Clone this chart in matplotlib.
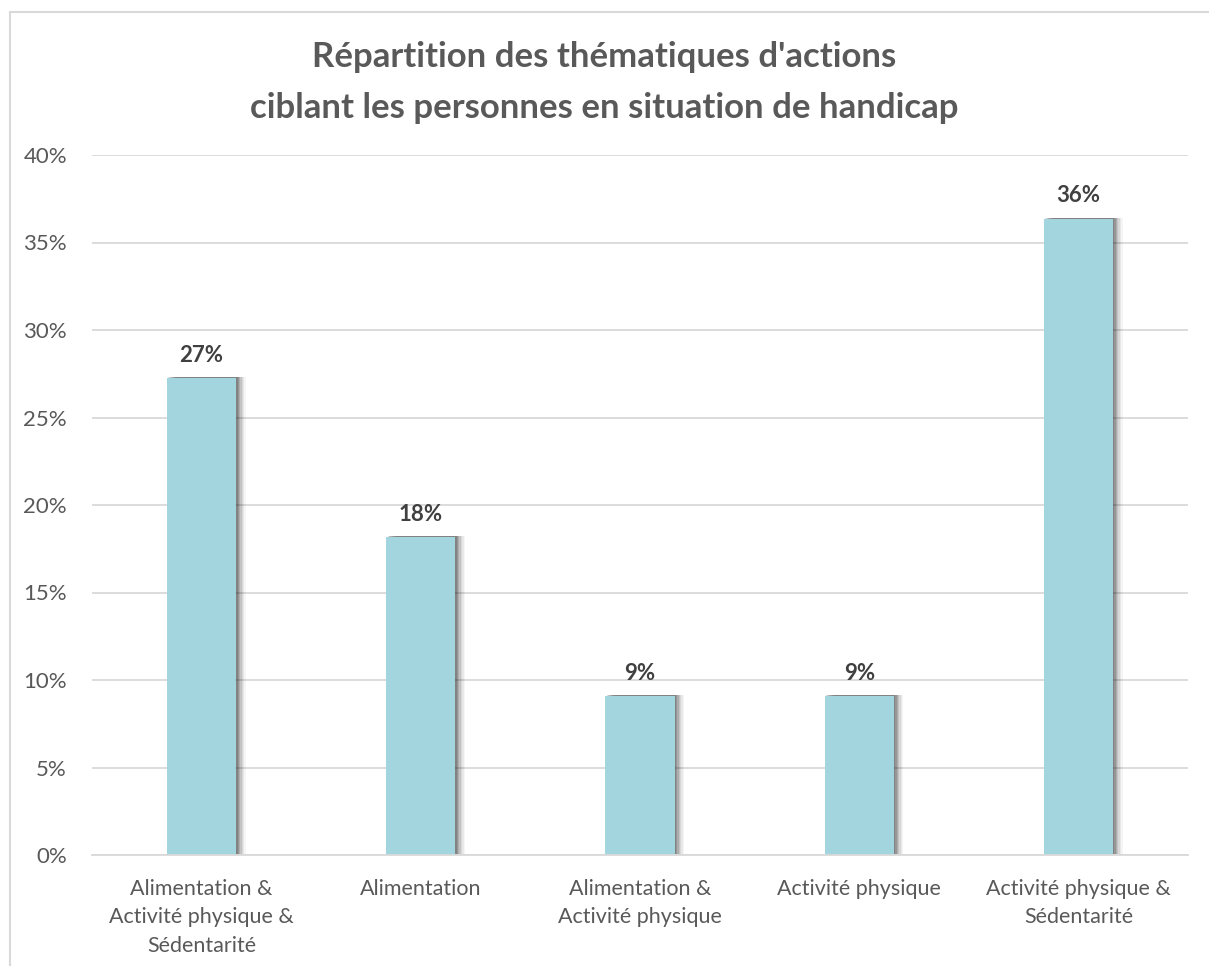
import numpy as np
import matplotlib.pyplot as plt
import matplotlib.patheffects as pe
from matplotlib.ticker import MultipleLocator, FuncFormatter
from matplotlib.patches import Rectangle

plt.rcParams['font.family'] = ['Lato', 'DejaVu Sans']

categories = ["Alimentation &\nActivité physique &\nSédentarité",
              "Alimentation",
              "Alimentation &\nActivité physique",
              "Activité physique",
              "Activité physique &\nSédentarité"]
values = [27.27, 18.18, 9.09, 9.09, 36.36]
labels = ["27%", "18%", "9%", "9%", "36%"]

fig = plt.figure(figsize=(12.09, 9.66), dpi=100)

# chart border (cut off at right/bottom like the reference)
fig.patches.append(Rectangle((10 / 1209, -0.1), 1.2, 1 - 12 / 966 + 0.1,
                             transform=fig.transFigure, fill=False,
                             edgecolor='#D9D9D9', lw=1.5))

ax = fig.add_axes([92 / 1209, 1 - 855 / 966, 1096 / 1209, 700 / 966])

x = np.arange(len(categories))
# soft shadow on the right side of the bars
shadow = []
for off, a in [(7, 0.04), (6, 0.05), (5, 0.07), (4, 0.09), (3, 0.11), (2, 0.13), (1, 0.13)]:
    shadow.append(pe.SimplePatchShadow(offset=(off, 0.8), shadow_rgbFace='#000000', alpha=a))
shadow.append(pe.Normal())
bars = ax.bar(x, values, width=0.315, color='#A3D5DF', zorder=3)
for b in bars:
    b.set_path_effects(shadow)

for xi, v, lab in zip(x, values, labels):
    ax.text(xi, v + 0.7, lab, ha='center', va='bottom', fontsize=16,
            fontweight='bold', color='#404040')

ax.set_xlim(-0.5, len(categories) - 0.5)
ax.set_ylim(0, 40)
ax.yaxis.set_major_locator(MultipleLocator(5))
ax.yaxis.set_major_formatter(FuncFormatter(lambda v, p: f"{int(v)}%"))
ax.grid(axis='y', color='#D9D9D9', lw=1.3, zorder=0)
for s in ['top', 'right', 'left']:
    ax.spines[s].set_visible(False)
ax.spines['bottom'].set_color('#D9D9D9')
ax.spines['bottom'].set_linewidth(1.3)
ax.spines['bottom'].set_zorder(4)
ax.tick_params(axis='both', length=0, colors='#595959')
ax.tick_params(axis='y', pad=18, labelsize=16)
ax.tick_params(axis='x', pad=17, labelsize=15.5)
ax.set_xticks(x)
ax.set_xticklabels(categories, linespacing=1.55)

fig.text(0.5, 1 - 57 / 966, "Répartition des thématiques d'actions", ha='center',
         va='center', fontsize=25, fontweight='bold', color='#595959')
fig.text(0.5, 1 - 108 / 966, "ciblant les personnes en situation de handicap", ha='center',
         va='center', fontsize=25, fontweight='bold', color='#595959')

fig.savefig('out.png', dpi=100)
